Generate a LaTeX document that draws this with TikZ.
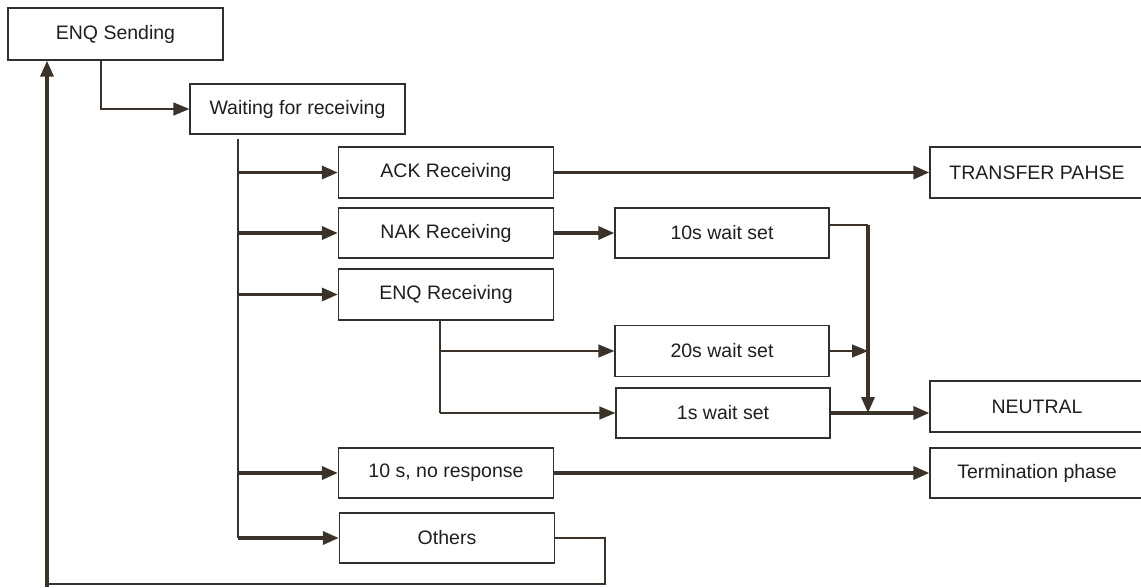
\documentclass[tikz,border=0pt]{standalone}
\usepackage{fontspec}
\setmainfont{Liberation Sans}
\usetikzlibrary{arrows.meta,calc}
\definecolor{ln}{HTML}{3B3329}
\definecolor{bx}{HTML}{303030}
\definecolor{tx}{HTML}{1E1E1E}
\begin{document}
\begin{tikzpicture}[x=1pt,y=-1pt,
  box/.style={draw=bx,line width=1.3pt,fill=white,rectangle,minimum width=215pt,minimum height=50pt,inner sep=0pt,text=tx,font=\fontsize{19.5}{22}\selectfont},
  thinln/.style={draw=ln,line width=1.3pt},
  thickln/.style={draw=ln,line width=3.4pt},
  tip/.style={-{Triangle[length=16pt,width=13pt]}},
  thinarr/.style={thinln,tip},
  thickarr/.style={thickln,tip}]
\useasboundingbox (0,0) rectangle (1141,587);
\clip (0,0) rectangle (1141,587);
% nodes
\node[box,minimum height=52pt] (enq) at (115.5,34) {ENQ Sending};
\node[box] (wait) at (297.5,109) {Waiting for receiving};
\node[box,minimum height=51pt] (ack) at (446,172.5) {ACK Receiving};
\node[box] (nak) at (446,233) {NAK Receiving};
\node[box,minimum height=51pt] (enqr) at (446,294.5) {ENQ Receiving};
\node[box,minimum width=214pt] (w10) at (722,233) {10s wait set};
\node[box,minimum width=214pt,minimum height=51pt] (w20) at (722,351) {20s wait set};
\node[box,minimum width=214pt] (w1) at (723,413) {1s wait set};
\node[box] (tn) at (446,473) {10 s, no response};
\node[box] (oth) at (447,538) {Others};
\node[box,minimum width=214pt,minimum height=51pt] (trans) at (1037,172.5) {TRANSFER PAHSE};
\node[box,minimum width=214pt,minimum height=51pt] (neutral) at (1037,406.5) {NEUTRAL};
\node[box,minimum width=214pt] (term) at (1037,473) {Termination phase};
% coordinates
\coordinate (t0) at (238,139);
\coordinate (t1) at (238,538);
\coordinate (s0) at (440,320);
\coordinate (m) at (868,225);
\coordinate (j) at (868,413);
\coordinate (r1) at (605,538);
\coordinate (r2) at (605,584);
\coordinate (r3) at (47,584);
% connectors
\draw[thinarr] ([xshift=-14.5pt]enq.south) |- (wait.west);
\draw[thinln] (t0) -- (t1);
\draw[thickarr] (t0 |- ack.west) -- (ack.west);
\draw[thickarr] (t0 |- nak.west) -- (nak.west);
\draw[thickarr] (t0 |- enqr.west) -- (enqr.west);
\draw[thickarr] (t0 |- tn.west) -- (tn.west);
\draw[thickarr] (t0 |- oth.west) -- (oth.west);
\draw[thickarr] (ack.east) -- (ack.east -| trans.west);
\draw[thickarr] (nak.east) -- (w10.west);
\draw[thinln] (s0) -- (s0 |- w1.west);
\draw[thinarr] (s0 |- w20.west) -- (w20.west);
\draw[thinarr] (s0 |- w1.west) -- (w1.west);
\draw[thinln] (w10.east |- m) -- (m);
\draw[thickarr] (m) -- (j);
\draw[thinarr] (w20.east) -- (w20.east -| j);
\draw[thickarr] (w1.east) -- (w1.east -| neutral.west);
\draw[thickarr] (tn.east) -- (tn.east -| term.west);
\draw[thinln] (oth.east) -- (r1) -- (r2) -- (r3);
\draw[thickln] (r3) -- (47,587);
\draw[thickarr] (r3) -- (r3 |- enq.south);
\end{tikzpicture}
\end{document}
